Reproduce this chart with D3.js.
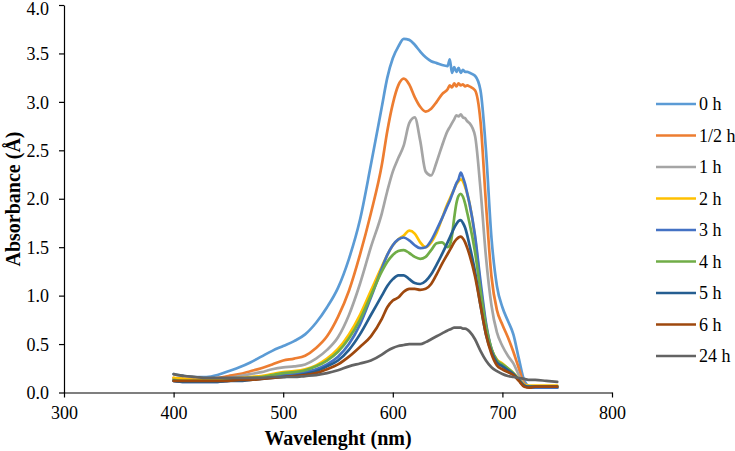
<!DOCTYPE html>
<html><head><meta charset="utf-8">
<script src="https://cdn.jsdelivr.net/npm/d3@7"></script>
<style>body{margin:0;background:#fff;} svg{display:block;font-family:"Liberation Serif","Times New Roman",serif;}</style>
</head><body><svg id="c" width="735" height="451"></svg>
<script>
const wavelengths = [400,410,420,430,440,450,460,470,480,490,500,510,520,530,540,550,560,570,580,590,
  595,600,605,610,615,620,625,630,635,640,645,650,
  652,654,656,658,660,662,664,666,668,670,
  675,680,685,690,695,700,705,710,715,720,725,730,740,750];

const seriesNames = ["0 h","1/2 h","1 h","2 h","3 h","4 h","5 h","6 h","24 h"];
const seriesColors = ["#5B9BD5","#ED7D31","#A5A5A5","#FFC000","#4472C4","#70AD47","#255E91","#9E480E","#636363"];

const abs0h = [0.19,0.17,0.16,0.16,0.18,0.22,0.26,0.31,0.37,0.43,0.48,0.53,0.60,0.72,0.88,1.08,1.38,1.78,2.35,2.95,
  3.25,3.45,3.57,3.65,3.64,3.59,3.52,3.46,3.42,3.40,3.38,3.37,
  3.44,3.30,3.36,3.31,3.35,3.30,3.33,3.31,3.31,3.30,
  3.27,3.12,2.50,1.60,1.10,0.88,0.74,0.60,0.35,0.12,0.06,0.05,0.05,0.05];
const abs05h = [0.15,0.14,0.14,0.14,0.15,0.17,0.19,0.22,0.25,0.29,0.33,0.35,0.38,0.46,0.58,0.78,1.05,1.42,1.85,2.35,
  2.70,2.98,3.17,3.24,3.18,3.05,2.95,2.90,2.93,3.00,3.08,3.13,
  3.17,3.15,3.19,3.16,3.19,3.17,3.18,3.16,3.17,3.16,
  3.12,2.80,1.95,1.20,0.85,0.70,0.57,0.42,0.25,0.09,0.06,0.05,0.05,0.05];
const abs1h = [0.14,0.13,0.13,0.13,0.14,0.15,0.17,0.19,0.21,0.24,0.26,0.27,0.29,0.35,0.44,0.57,0.80,1.12,1.50,1.85,
  2.08,2.28,2.42,2.55,2.78,2.84,2.60,2.28,2.24,2.38,2.55,2.70,
  2.74,2.78,2.82,2.86,2.85,2.87,2.84,2.83,2.80,2.78,
  2.65,2.10,1.40,0.90,0.62,0.48,0.38,0.30,0.18,0.08,0.06,0.06,0.06,0.06];
const abs2h = [0.15,0.14,0.13,0.13,0.13,0.14,0.15,0.16,0.17,0.19,0.21,0.22,0.24,0.28,0.35,0.45,0.60,0.80,1.05,1.30,
  1.42,1.52,1.58,1.62,1.67,1.64,1.55,1.50,1.55,1.65,1.80,1.95,
  2.00,2.05,2.10,2.15,2.18,2.20,2.18,2.12,2.05,1.95,
  1.60,1.10,0.70,0.45,0.34,0.30,0.25,0.20,0.14,0.08,0.07,0.07,0.07,0.07];
const abs3h = [0.12,0.11,0.11,0.11,0.11,0.12,0.13,0.14,0.15,0.16,0.18,0.19,0.21,0.24,0.29,0.37,0.50,0.70,0.98,1.28,
  1.42,1.52,1.58,1.60,1.57,1.52,1.49,1.50,1.57,1.68,1.80,1.93,
  1.98,2.04,2.10,2.16,2.20,2.27,2.22,2.15,2.05,1.95,
  1.62,1.15,0.72,0.45,0.33,0.28,0.24,0.19,0.13,0.07,0.05,0.05,0.05,0.05];
const abs4h = [0.13,0.12,0.12,0.12,0.12,0.13,0.14,0.15,0.16,0.18,0.20,0.21,0.23,0.27,0.33,0.42,0.56,0.75,1.00,1.25,
  1.35,1.42,1.46,1.47,1.44,1.40,1.38,1.40,1.47,1.54,1.55,1.50,
  1.52,1.62,1.80,1.95,2.03,2.05,2.02,1.95,1.85,1.75,
  1.45,1.05,0.68,0.45,0.33,0.29,0.25,0.20,0.13,0.07,0.06,0.06,0.06,0.06];
const abs5h = [0.12,0.11,0.11,0.11,0.11,0.12,0.12,0.13,0.14,0.15,0.16,0.17,0.19,0.22,0.27,0.33,0.44,0.60,0.80,1.00,
  1.10,1.17,1.21,1.21,1.17,1.13,1.12,1.15,1.22,1.32,1.43,1.55,
  1.60,1.65,1.70,1.74,1.77,1.78,1.75,1.70,1.62,1.52,
  1.25,0.90,0.60,0.42,0.31,0.27,0.23,0.19,0.13,0.07,0.06,0.06,0.06,0.06];
const abs6h = [0.12,0.12,0.12,0.12,0.12,0.12,0.13,0.13,0.14,0.15,0.16,0.17,0.18,0.20,0.24,0.29,0.37,0.47,0.58,0.76,
  0.88,0.95,0.98,1.04,1.07,1.07,1.06,1.07,1.12,1.22,1.33,1.43,
  1.47,1.51,1.55,1.58,1.60,1.61,1.59,1.55,1.49,1.42,
  1.20,0.90,0.60,0.40,0.28,0.24,0.21,0.18,0.12,0.06,0.05,0.06,0.06,0.06];
const abs24h = [0.19,0.17,0.16,0.15,0.15,0.15,0.15,0.15,0.15,0.16,0.16,0.16,0.17,0.18,0.20,0.23,0.27,0.30,0.33,0.39,
  0.43,0.46,0.48,0.49,0.50,0.50,0.50,0.52,0.55,0.58,0.61,0.64,
  0.65,0.66,0.67,0.67,0.67,0.67,0.66,0.66,0.65,0.63,
  0.55,0.43,0.33,0.26,0.22,0.19,0.17,0.16,0.15,0.14,0.13,0.13,0.12,0.11];

const seriesValues = [abs0h,abs05h,abs1h,abs2h,abs3h,abs4h,abs5h,abs6h,abs24h];
const xTicks = [300,400,500,600,700,800];
const yTicks = [0,0.5,1,1.5,2,2.5,3,3.5,4];

const svg = d3.select("#c");
const x = d3.scaleLinear().domain([300,800]).range([64,612]);
const y = d3.scaleLinear().domain([0,4]).range([392.5,5]);

const line = d3.line().x(d=>x(d[0])).y(d=>y(d[1])).curve(d3.curveMonotoneX);

seriesValues.forEach((vals,i)=>{
  svg.append("path")
    .datum(wavelengths.map((w,j)=>[w,vals[j]]))
    .attr("fill","none").attr("stroke",seriesColors[i])
    .attr("stroke-width",2.7).attr("stroke-linejoin","round").attr("stroke-linecap","round")
    .attr("d",line);
});

const xAxis = svg.append("g").attr("transform","translate(0,392.5)")
  .call(d3.axisBottom(x).tickValues(xTicks).tickSize(5).tickSizeOuter(0).tickFormat(d3.format("d")));
const yAxis = svg.append("g").attr("transform","translate(64,0)")
  .call(d3.axisLeft(y).tickValues(yTicks).tickSize(5).tickSizeOuter(0).tickFormat(d3.format(".1f")));
[xAxis,yAxis].forEach(g=>{
  g.selectAll("path,line").attr("stroke","#000").attr("stroke-width",1.2);
  g.selectAll("text").attr("font-family","Liberation Serif, Times New Roman, serif")
    .attr("font-size",18).attr("fill","#000");
});
xAxis.selectAll("text").attr("dy","0").attr("y",26);
yAxis.selectAll("text").attr("x",-15).attr("dy","0.34em");
yAxis.selectAll(".tick").filter(d=>d===4).select("text").attr("dy","0.5em");

svg.append("text").attr("x",338).attr("y",445).attr("text-anchor","middle")
  .attr("font-size",20).attr("font-weight","bold").text("Wavelenght (nm)");
svg.append("text").attr("transform","translate(20,199) rotate(-90)").attr("text-anchor","middle")
  .attr("font-size",20).attr("font-weight","bold").text("Absorbance (Å)");

const leg = svg.append("g");
seriesNames.forEach((n,i)=>{
  const yy = 104 + i*31.5;
  leg.append("line").attr("x1",656).attr("x2",696).attr("y1",yy).attr("y2",yy)
    .attr("stroke",seriesColors[i]).attr("stroke-width",2.7);
  leg.append("text").attr("x",699).attr("y",yy).attr("dy","0.35em")
    .attr("font-size",18).attr("fill","#000").text(n);
});
</script></body></html>
